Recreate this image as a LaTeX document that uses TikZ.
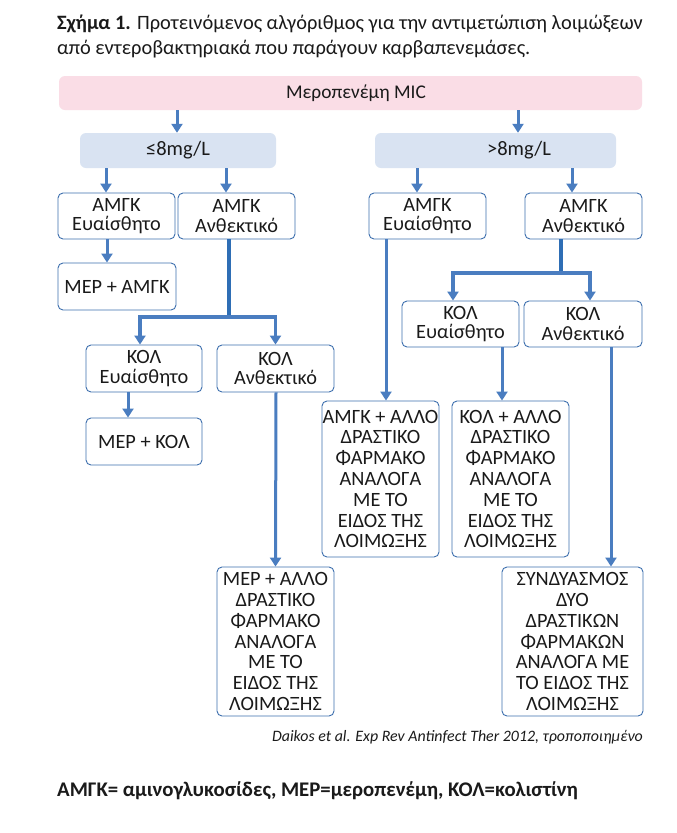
\documentclass[tikz,border=0pt]{standalone}
\usepackage{fontspec}
\setmainfont{Carlito}
\usetikzlibrary{arrows.meta,calc}
\definecolor{pinkfill}{HTML}{FADDE6}
\definecolor{bluefill}{HTML}{D9E3F2}
\definecolor{boxline}{HTML}{3D6FAE}
\definecolor{arrowblue}{HTML}{4A7DC0}
\definecolor{branchblue}{HTML}{2E6EB5}
\definecolor{txt}{HTML}{1A1A1A}
\tikzset{
  box/.style={draw=boxline, line width=0.9pt, rounded corners=5pt, fill=white, align=center, inner sep=0pt, text=txt, font=\fontsize{20.3}{19.6}\selectfont},
  tallbox/.style={box, font=\fontsize{20.3}{20.8}\selectfont},
  band/.style={rounded corners=6pt, inner sep=0pt, text=txt, font=\fontsize{20.5}{22}\selectfont},
  arr/.style={draw=arrowblue, line width=3pt, -{Triangle[width=11pt,length=9pt]}},
  brl/.style={draw=branchblue, line width=3.2pt},
  brarr/.style={draw=branchblue, line width=3.2pt, -{Triangle[width=11pt,length=9pt]}, color=arrowblue},
}
\begin{document}
\begin{tikzpicture}[x=1pt,y=-1pt]
\useasboundingbox (0,0) rectangle (677,833);
\fill[white] (0,0) rectangle (677,833);
% title
\node[anchor=base west, inner sep=0pt, text=txt, font=\fontsize{20.4}{24}\selectfont] (t1) at (57,29) {\textbf{Σχήμα 1.} Προτεινόμενος αλγόριθμος για την αντιμετώπιση λοιμώξεων};
\node[anchor=base west, inner sep=0pt, text=txt, font=\fontsize{20.4}{24}\selectfont] (t2) at (57,54) {από εντεροβακτηριακά που παράγουν καρβαπενεμάσες.};
% bands
\node[band, fill=pinkfill, minimum width=583pt, minimum height=34pt, font=\fontsize{19.4}{22}\selectfont] (mic) at (350.5,93) {\hspace*{11pt}Μεροπενέμη MIC};
\node[band, fill=bluefill, minimum width=196pt, minimum height=35pt] (le8) at (178,150.5) {≤8mg/L};
\node[band, fill=bluefill, minimum width=241pt, minimum height=35pt] (gt8) at (495.5,150.5) {\hspace*{47pt}>8mg/L};
% boxes
\node[box, minimum width=117pt, minimum height=46pt] (a1) at (116.5,216) {ΑΜΓΚ\\Ευαίσθητο};
\node[box, minimum width=117pt, minimum height=46pt] (a2) at (236.5,216) {ΑΜΓΚ\\Ανθεκτικό};
\node[box, minimum width=117pt, minimum height=46pt] (a3) at (427.5,216) {ΑΜΓΚ\\Ευαίσθητο};
\node[box, minimum width=117pt, minimum height=46pt] (a4) at (583.5,216) {ΑΜΓΚ\\Ανθεκτικό};
\node[box, minimum width=118pt, minimum height=47pt] (m1) at (117,286.5) {ΜΕΡ + ΑΜΓΚ};
\node[box, minimum width=116pt, minimum height=47pt] (k1) at (144,368.5) {ΚΟΛ\\Ευαίσθητο};
\node[box, minimum width=117pt, minimum height=47pt] (k2) at (275.5,368.5) {ΚΟΛ\\Ανθεκτικό};
\node[box, minimum width=116pt, minimum height=47pt] (m2) at (144,441.5) {ΜΕΡ + ΚΟΛ};
\node[box, minimum width=117pt, minimum height=46pt] (k3) at (460.5,324) {ΚΟΛ\\Ευαίσθητο};
\node[box, minimum width=118pt, minimum height=46pt] (k4) at (583,324) {ΚΟΛ\\Ανθεκτικό};
\node[tallbox, minimum width=117pt, minimum height=156pt] (l1) at (380.5,479) {ΑΜΓΚ + ΑΛΛΟ\\ΔΡΑΣΤΙΚΟ\\ΦΑΡΜΑΚΟ\\ΑΝΑΛΟΓΑ\\ΜΕ ΤΟ\\ΕΙΔΟΣ ΤΗΣ\\ΛΟΙΜΩΞΗΣ};
\node[tallbox, minimum width=117pt, minimum height=156pt] (l2) at (510.5,479) {ΚΟΛ + ΑΛΛΟ\\ΔΡΑΣΤΙΚΟ\\ΦΑΡΜΑΚΟ\\ΑΝΑΛΟΓΑ\\ΜΕ ΤΟ\\ΕΙΔΟΣ ΤΗΣ\\ΛΟΙΜΩΞΗΣ};
\node[tallbox, minimum width=117pt, minimum height=149pt] (l3) at (275.5,641.5) {ΜΕΡ + ΑΛΛΟ\\ΔΡΑΣΤΙΚΟ\\ΦΑΡΜΑΚΟ\\ΑΝΑΛΟΓΑ\\ΜΕ ΤΟ\\ΕΙΔΟΣ ΤΗΣ\\ΛΟΙΜΩΞΗΣ};
\node[tallbox, minimum width=141pt, minimum height=149pt] (l4) at (572.5,641.5) {ΣΥΝΔΥΑΣΜΟΣ\\ΔΥΟ\\ΔΡΑΣΤΙΚΩΝ\\ΦΑΡΜΑΚΩΝ\\ΑΝΑΛΟΓΑ ΜΕ\\ΤΟ ΕΙΔΟΣ ΤΗΣ\\ΛΟΙΜΩΞΗΣ};
% notes
\node[anchor=base east, inner sep=0pt, text=txt, font=\fontsize{15.9}{18}\selectfont\itshape] (cite) at (643,741) {Daikos et al. Exp Rev Antinfect Ther 2012, τροποποιημένο};
\node[anchor=base west, inner sep=0pt, text=txt, font=\fontsize{20.8}{22}\selectfont\bfseries] (foot) at (57,796) {ΑΜΓΚ= αμινογλυκοσίδες, ΜΕΡ=μεροπενέμη, ΚΟΛ=κολιστίνη};
% branch points
\coordinate (b1) at (229,317);
\coordinate (b2) at (561,273);
% connectors
\draw[arr] ([xshift=-173.5pt]mic.south) -- ([xshift=-1pt]le8.north);
\draw[arr] ([xshift=167.5pt]mic.south) -- ([xshift=22.5pt]gt8.north);
\draw[arr] ([xshift=-72pt]le8.south) -- ([xshift=-10.5pt]a1.north);
\draw[arr] ([xshift=48pt]le8.south) -- ([xshift=-10.5pt]a2.north);
\draw[arr] ([xshift=-78.5pt]gt8.south) -- ([xshift=-10.5pt]a3.north);
\draw[arr] ([xshift=76.5pt]gt8.south) -- ([xshift=-11.5pt]a4.north);
\draw[arr] ([xshift=-9.5pt]a1.south) -- ([xshift=-10pt]m1.north);
\draw[arr] ([xshift=-16pt]k1.south) -- ([xshift=-16pt]m2.north);
\draw[arr] ([xshift=0.5pt]k2.south) -- (l3.north);
\draw[arr] ([xshift=-41.5pt]a3.south) -- ([xshift=5.5pt]l1.north);
\draw[arr] ([xshift=41.5pt]k3.south) -- ([xshift=-8.5pt]l2.north);
\draw[arr] ([xshift=28pt]k4.south) -- ([xshift=38.5pt]l4.north);
\draw[brl] ([xshift=-7.5pt]a2.south) -- (b1);
\draw[brarr] (b1) -| ([xshift=-4pt]k1.north);
\draw[brarr] (b1) -| (k2.north);
\draw[brl] ([xshift=-22.5pt]a4.south) -- (b2);
\draw[brarr] (b2) -| ([xshift=-7.5pt]k3.north);
\draw[brarr] (b2) -| ([xshift=7pt]k4.north);
\end{tikzpicture}
\end{document}
